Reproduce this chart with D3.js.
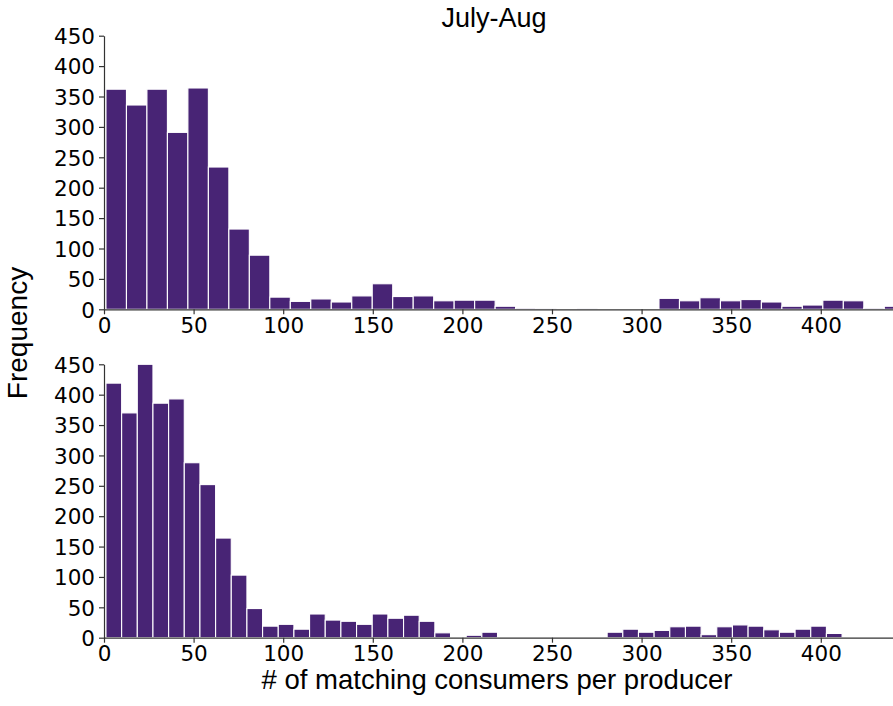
<!DOCTYPE html>
<html>
<head>
<meta charset="utf-8">
<script src="https://cdn.jsdelivr.net/npm/d3@7"></script>
<style>
  body { margin: 0; background: #fff; }
  svg { display: block; }
  .tick text { font-family: "DejaVu Sans", sans-serif; font-size: 21.5px; fill: #000; }
  .lbl { font-family: "Liberation Sans", Arial, sans-serif; fill: #000; }
</style>
</head>
<body>
<svg width="893" height="706"></svg>
<script>
// histogram counts, one per bin
const julyAugCounts = [362, 336, 362, 291, 364, 234, 132, 89, 20, 13, 17, 12, 22, 42, 21, 22, 14, 15, 15, 5,
  2, 1, 0, 1, 0, 0, 0, 18, 14, 19, 14, 16, 12, 5, 7, 15, 14, 2, 5]
const otherCounts = [419, 370, 450, 386, 393, 288, 252, 164, 103, 48, 19, 22, 14, 39, 29, 27, 22, 39, 32, 37,
  27, 8, 1, 4, 9, 0, 0, 0, 0, 1, 0, 0, 9, 14, 9, 12, 18, 19, 5, 18, 21, 19, 13, 9, 14, 19, 7]
const binStart = 1.1
const julyAugBinWidth = 11.43
const otherBinWidth = 8.74
const xTicks = [0, 50, 100, 150, 200, 250, 300, 350, 400]
const yTicks = [0, 50, 100, 150, 200, 250, 300, 350, 400, 450]

const svg = d3.select("svg")
const barColour = "#482475"

const x = d3.scaleLinear().domain([0, 440.3]).range([104, 893])

// one panel = one histogram
function drawPanel(counts, binWidth, top, bottom) {
  const y = d3.scaleLinear().domain([0, 450]).range([bottom, top])
  const g = svg.append("g")

  const bins = counts.map((c, i) => ({ x0: binStart + i * binWidth, x1: binStart + (i + 1) * binWidth, n: c }))

  g.selectAll("rect")
    .data(bins.filter(b => b.n > 0))
    .enter()
    .append("rect")
    .attr("x", d => x(d.x0))
    .attr("width", d => x(d.x1) - x(d.x0))
    .attr("y", d => y(d.n))
    .attr("height", d => y(0) - y(d.n))
    .attr("fill", barColour)
    .attr("stroke", "#fff")
    .attr("stroke-width", 1.1)

  const yAxis = g.append("g")
    .attr("transform", "translate(104,0)")
    .call(d3.axisLeft(y).tickValues(yTicks).tickSize(5).tickPadding(4).tickSizeOuter(0))
  const xAxis = g.append("g")
    .attr("transform", "translate(0," + bottom + ")")
    .call(d3.axisBottom(x).tickValues(xTicks).tickSize(5).tickPadding(3).tickSizeOuter(0))

  ;[xAxis, yAxis].forEach(a => {
    a.select(".domain").attr("stroke", "#333").attr("stroke-width", 1.2)
    a.selectAll(".tick line").attr("stroke", "#333").attr("stroke-width", 1.2)
  })
  yAxis.selectAll(".tick text").attr("dy", "0.36em")
  xAxis.selectAll(".tick text").attr("dy", "0.72em")
}

drawPanel(julyAugCounts, julyAugBinWidth, 35.7, 309.3)
drawPanel(otherCounts, otherBinWidth, 364.3, 637.7)

svg.append("text").attr("class", "lbl")
  .attr("x", 494).attr("y", 27)
  .attr("text-anchor", "middle").attr("font-size", 27)
  .text("July-Aug")

svg.append("text").attr("class", "lbl")
  .attr("x", 497).attr("y", 689)
  .attr("text-anchor", "middle").attr("font-size", 27.5)
  .text("# of matching consumers per producer")

svg.append("text").attr("class", "lbl")
  .attr("transform", "translate(27,333) rotate(-90)")
  .attr("text-anchor", "middle").attr("font-size", 28)
  .text("Frequency")
</script>
</body>
</html>
